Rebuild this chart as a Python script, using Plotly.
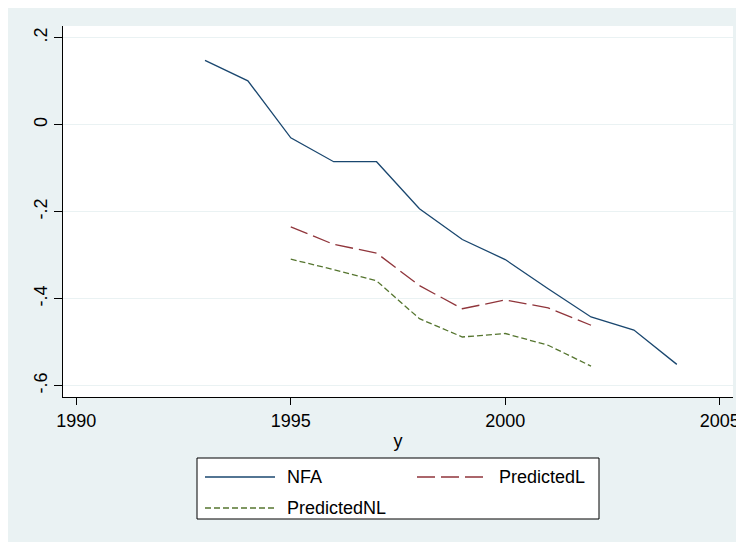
import plotly.graph_objects as go

# ---- data ----
years_nfa = [1993, 1994, 1995, 1996, 1997, 1998, 1999, 2000, 2001, 2002, 2003, 2004]
nfa = [0.148, 0.101, -0.030, -0.085, -0.085, -0.193, -0.264, -0.310, -0.377, -0.442, -0.472, -0.551]

years_pred = [1995, 1996, 1997, 1998, 1999, 2000, 2001, 2002]
predicted_l = [-0.235, -0.275, -0.295, -0.370, -0.423, -0.403, -0.421, -0.461]
predicted_nl = [-0.309, -0.333, -0.359, -0.446, -0.488, -0.480, -0.507, -0.555]

x_ticks = [1990, 1995, 2000, 2005]
y_ticks = [0.2, 0, -0.2, -0.4, -0.6]
y_ticktext = [".2", "0", "-.2", "-.4", "-.6"]

# ---- style ----
# page has an 8px body margin, so the figure is offset by 8px
OFF = 8
W, H = 736, 534
ML, MR, MT, MB = 55, 11, 18, 145
PW, PH = W - ML - MR, H - MT - MB
BG = "#eaf2f3"
NAVY = "#1a476f"
MAROON = "#90353b"
GREEN = "#55752f"
FONT = "Liberation Sans, Arial, sans-serif"
FS = 18


def px_x(p):
    # page pixel -> paper x
    return (p - OFF - ML) / PW


def px_y(p):
    # page pixel -> paper y
    return (H - MB - (p - OFF)) / PH


fig = go.Figure()
fig.add_trace(go.Scatter(x=years_nfa, y=nfa, mode="lines", name="NFA",
                         line=dict(color=NAVY, width=1.3), showlegend=False))
fig.add_trace(go.Scatter(x=years_pred, y=predicted_l, mode="lines", name="PredictedL",
                         line=dict(color=MAROON, width=1.3, dash="18px,6px"), showlegend=False))
fig.add_trace(go.Scatter(x=years_pred, y=predicted_nl, mode="lines", name="PredictedNL",
                         line=dict(color=GREEN, width=1.3, dash="6px,3px"), showlegend=False))

shapes = []
# legend box
shapes.append(dict(type="rect", xref="paper", yref="paper",
                   x0=px_x(197), x1=px_x(599), y0=px_y(458), y1=px_y(519),
                   fillcolor="white", line=dict(color="black", width=1)))
legend_items = [
    ("NFA", NAVY, "solid", 205, 477),
    ("PredictedL", MAROON, "18px,6px", 417, 477),
    ("PredictedNL", GREEN, "6px,3px", 205, 508),
]
annotations = []
for name, col, dash, lx, ly in legend_items:
    shapes.append(dict(type="line", xref="paper", yref="paper",
                       x0=px_x(lx), x1=px_x(lx + 70), y0=px_y(ly), y1=px_y(ly),
                       line=dict(color=col, width=1.3, dash=dash)))
    annotations.append(dict(xref="paper", yref="paper", x=px_x(lx + 80), y=px_y(ly),
                            text=name, showarrow=False, xanchor="left", yanchor="middle",
                            font=dict(family=FONT, size=FS, color="black")))

fig.update_layout(
    width=W, height=H,
    margin=dict(l=ML, r=MR, t=MT, b=MB, autoexpand=False),
    paper_bgcolor=BG, plot_bgcolor="white",
    font=dict(family=FONT, size=FS, color="black"),
    showlegend=False,
    shapes=shapes,
    annotations=annotations,
    xaxis=dict(range=[1989.69, 2005.31], tickvals=x_ticks, ticktext=[str(v) for v in x_ticks],
               showgrid=False, zeroline=False, showline=True, linecolor="black", linewidth=1,
               ticks="outside", ticklen=7, tickcolor="black", tickwidth=1,
               tickfont=dict(size=FS), title=dict(text="y", standoff=4, font=dict(size=FS))),
    yaxis=dict(range=[-0.626, 0.227], tickvals=y_ticks, ticktext=y_ticktext, tickangle=-90,
               showgrid=True, gridcolor=BG, gridwidth=1, zeroline=False,
               showline=True, linecolor="black", linewidth=1,
               ticks="outside", ticklen=8, tickcolor="black", tickwidth=1,
               tickfont=dict(size=FS)),
)

fig.write_html("out.html")
